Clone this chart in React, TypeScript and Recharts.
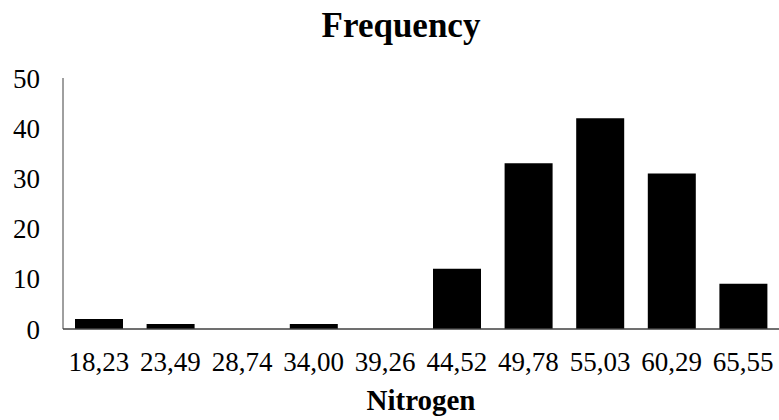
import { BarChart, Bar, XAxis, YAxis } from "recharts";

const bins = ["18,23", "23,49", "28,74", "34,00", "39,26", "44,52", "49,78", "55,03", "60,29", "65,55"];
const counts = [2, 1, 0, 1, 0, 12, 33, 42, 31, 9];
const yTicks = [0, 10, 20, 30, 40, 50];

const data = bins.map((bin, i) => ({ bin, count: counts[i] }));

const serif = "'Liberation Serif', 'Times New Roman', serif";

export default function App() {
  return (
    <div style={{ position: "absolute", left: 0, top: 0, width: 779, height: 420, background: "#fff", fontFamily: serif }}>
      <div
        style={{
          position: "absolute",
          left: 0,
          width: 802,
          top: 6,
          textAlign: "center",
          fontSize: 35,
          fontWeight: "bold",
          lineHeight: "40px",
        }}
      >
        Frequency
      </div>
      <BarChart width={779} height={420} data={data} margin={{ top: 78, right: 0, left: 0, bottom: 0 }}>
        <YAxis
          width={63}
          domain={[0, 50]}
          ticks={yTicks}
          tickLine={false}
          tickMargin={17}
          axisLine={{ stroke: "#404040", strokeWidth: 1 }}
          tick={{ fill: "#000", fontSize: 27, fontFamily: serif }}
        />
        <XAxis
          dataKey="bin"
          height={91}
          interval={0}
          tickLine={false}
          tickMargin={17}
          axisLine={{ stroke: "#404040", strokeWidth: 1.5 }}
          tick={{ fill: "#000", fontSize: 27, fontFamily: serif }}
        />
        <Bar dataKey="count" fill="#000" barSize={48} isAnimationActive={false} />
      </BarChart>
      <div
        style={{
          position: "absolute",
          left: 63,
          width: 716,
          top: 385,
          textAlign: "center",
          fontSize: 29,
          fontWeight: "bold",
          lineHeight: "30px",
        }}
      >
        Nitrogen
      </div>
    </div>
  );
}
